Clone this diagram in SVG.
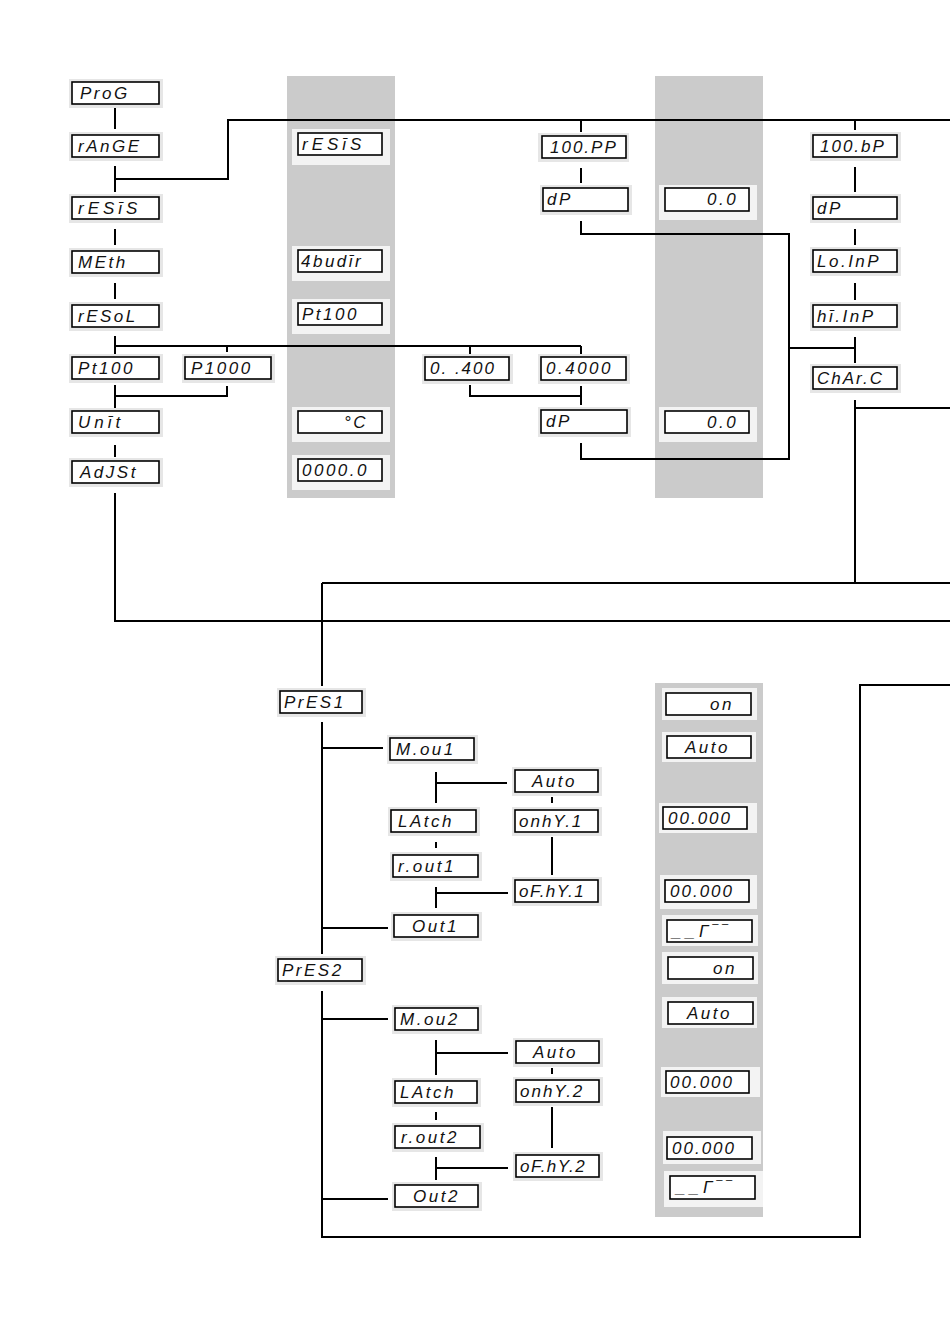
<svg xmlns="http://www.w3.org/2000/svg" width="950" height="1334" viewBox="0 0 950 1334">
<style>
.bg{fill:#cbcbcb}
.hw{fill:#e6e6e6}
.hg{fill:#f3f3f3}
.box{fill:#fff;stroke:#000;stroke-width:1.6}
text{font-family:"Liberation Sans",Arial,sans-serif;font-style:italic;font-size:17px;letter-spacing:2.5px;fill:#111}
.c path{fill:none;stroke:#000;stroke-width:2}
</style>
<rect width="950" height="1334" fill="#fff"/>
<g id="columns">
<rect class="bg" x="287" y="76" width="108" height="422"/>
<rect class="bg" x="655" y="76" width="108" height="422"/>
<rect class="bg" x="655" y="683" width="108" height="534"/>
</g>
<g class="c" id="connectors">
<path d="M115,108V129M115,166V192M115,179H228V120H950M115,229V245M115,283V299M115,336V354M115,346H581M227,346V352M470,346V354M581,346V354"/>
<path d="M115,385V408M115,396H227V386M115,445V457M115,493V621H950"/>
<path d="M581,120V132M581,168V183M581,221V234H789V459H581V443M789,348H855M470,385V396H581M581,386V405"/>
<path d="M855,120V130M855,167V192M855,229V245M855,283V300M855,337V363M855,400V583M855,408H950M322,583H950M322,583V686"/>
<path d="M322,722V954M322,748H383M322,928H388M436,772V803M436,783H507M552,797V803M436,842V848M552,837V875M436,887V908M436,893H508"/>
<path d="M322,991V1237H860V685H950M322,1019H388M436,1040V1075M436,1053H508M552,1068V1074M436,1112V1120M552,1107V1148M436,1157V1180M436,1168H508M322,1199H388"/>
</g>
<g id="n-prog"><rect class="hw" x="69" y="79" width="94" height="29"/><rect class="box" x="72" y="82" width="87" height="22"/><text x="80" y="99">ProG</text></g>
<g id="n-range"><rect class="hw" x="69" y="132" width="94" height="29"/><rect class="box" x="72" y="135" width="87" height="22"/><text x="78" y="152">rAnGE</text></g>
<g id="n-resis"><rect class="hw" x="69" y="194" width="94" height="29"/><rect class="box" x="72" y="197" width="87" height="22"/><text x="78" y="214" style="letter-spacing:4px">rESīS</text></g>
<g id="n-meth"><rect class="hw" x="69" y="248" width="94" height="29"/><rect class="box" x="72" y="251" width="87" height="22"/><text x="78" y="268">MEth</text></g>
<g id="n-resol"><rect class="hw" x="69" y="302" width="94" height="29"/><rect class="box" x="72" y="305" width="87" height="22"/><text x="78" y="322">rESoL</text></g>
<g id="n-pt100"><rect class="hw" x="69" y="354" width="94" height="29"/><rect class="box" x="72" y="357" width="87" height="22"/><text x="78" y="374">Pt100</text></g>
<g id="n-p1000"><rect class="hw" x="182" y="354" width="93" height="29"/><rect class="box" x="185" y="357" width="86" height="22"/><text x="191" y="374">P1000</text></g>
<g id="n-unit"><rect class="hw" x="69" y="408" width="94" height="29"/><rect class="box" x="72" y="411" width="87" height="22"/><text x="78" y="428" style="letter-spacing:4px">Unīt</text></g>
<g id="n-adjst"><rect class="hw" x="69" y="458" width="94" height="29"/><rect class="box" x="72" y="461" width="87" height="22"/><text x="80" y="478">AdJSt</text></g>
<g id="a-resis"><rect class="hg" x="292" y="129" width="98" height="36"/><rect class="box" x="298" y="133" width="84" height="22"/><text x="302" y="150" style="letter-spacing:4px">rESīS</text></g>
<g id="a-4wire"><rect class="hg" x="292" y="246" width="98" height="35"/><rect class="box" x="298" y="250" width="84" height="22"/><text x="301" y="267">4budīr</text></g>
<g id="a-pt100"><rect class="hg" x="292" y="299" width="98" height="35"/><rect class="box" x="298" y="303" width="84" height="22"/><text x="302" y="320">Pt100</text></g>
<g id="a-unit"><rect class="hg" x="292" y="407" width="98" height="35"/><rect class="box" x="298" y="411" width="84" height="22"/><text x="344" y="428">°C</text></g>
<g id="a-adj"><rect class="hg" x="292" y="455" width="98" height="35"/><rect class="box" x="298" y="459" width="84" height="22"/><text x="302" y="476">0000.0</text></g>
<g id="n-100pp"><rect class="hw" x="538" y="133" width="91" height="29"/><rect class="box" x="542" y="136" width="84" height="22"/><text x="550" y="153" style="letter-spacing:2px">100.PP</text></g>
<g id="n-dp1"><rect class="hw" x="540" y="185" width="92" height="30"/><rect class="box" x="543" y="188" width="85" height="23"/><text x="547" y="205">dP</text></g>
<g id="n-0400"><rect class="hw" x="422" y="354" width="91" height="30"/><rect class="box" x="425" y="357" width="84" height="23"/><text x="430" y="374" style="letter-spacing:2px">0. .400</text></g>
<g id="n-04000"><rect class="hw" x="538" y="354" width="92" height="30"/><rect class="box" x="541" y="357" width="85" height="23"/><text x="546" y="374">0.4000</text></g>
<g id="n-dp2"><rect class="hw" x="538" y="407" width="93" height="30"/><rect class="box" x="541" y="410" width="86" height="23"/><text x="546" y="427">dP</text></g>
<g id="b-dp1"><rect class="hg" x="659" y="185" width="98" height="35"/><rect class="box" x="665" y="188" width="84" height="23"/><text x="707" y="205">0.0</text></g>
<g id="b-dp2"><rect class="hg" x="659" y="407" width="98" height="35"/><rect class="box" x="665" y="411" width="84" height="22"/><text x="707" y="428">0.0</text></g>
<g id="n-100bp"><rect class="hw" x="810" y="132" width="91" height="29"/><rect class="box" x="813" y="135" width="84" height="22"/><text x="820" y="152" style="letter-spacing:2px">100.bP</text></g>
<g id="n-dp3"><rect class="hw" x="810" y="194" width="91" height="29"/><rect class="box" x="813" y="197" width="84" height="22"/><text x="817" y="214">dP</text></g>
<g id="n-loinp"><rect class="hw" x="810" y="247" width="91" height="29"/><rect class="box" x="813" y="250" width="84" height="22"/><text x="817" y="267">Lo.InP</text></g>
<g id="n-hiinp"><rect class="hw" x="810" y="302" width="91" height="29"/><rect class="box" x="813" y="305" width="84" height="22"/><text x="817" y="322">hī.InP</text></g>
<g id="n-charc"><rect class="hw" x="810" y="364" width="91" height="29"/><rect class="box" x="813" y="367" width="84" height="22"/><text x="817" y="384" style="letter-spacing:2px">ChAr.C</text></g>
<g id="n-pres1"><rect class="hw" x="277" y="688" width="89" height="29"/><rect class="box" x="280" y="691" width="82" height="22"/><text x="284" y="708">PrES1</text></g>
<g id="n-mou1"><rect class="hw" x="387" y="735" width="91" height="29"/><rect class="box" x="390" y="738" width="84" height="22"/><text x="396" y="755">M.ou1</text></g>
<g id="n-auto1"><rect class="hw" x="512" y="767" width="90" height="29"/><rect class="box" x="515" y="770" width="83" height="22"/><text x="532" y="787">Auto</text></g>
<g id="n-onhy1"><rect class="hw" x="512" y="807" width="90" height="29"/><rect class="box" x="515" y="810" width="83" height="22"/><text x="519" y="827" style="letter-spacing:2px">onhY.1</text></g>
<g id="n-latch1"><rect class="hw" x="388" y="807" width="92" height="29"/><rect class="box" x="391" y="810" width="85" height="22"/><text x="398" y="827">LAtch</text></g>
<g id="n-rout1"><rect class="hw" x="390" y="852" width="92" height="29"/><rect class="box" x="393" y="855" width="85" height="22"/><text x="398" y="872">r.out1</text></g>
<g id="n-ofhy1"><rect class="hw" x="512" y="877" width="90" height="29"/><rect class="box" x="515" y="880" width="83" height="22"/><text x="519" y="897" style="letter-spacing:1.5px">oF.hY.1</text></g>
<g id="n-out1"><rect class="hw" x="391" y="912" width="91" height="29"/><rect class="box" x="394" y="915" width="84" height="22"/><text x="412" y="932">Out1</text></g>
<g id="n-pres2"><rect class="hw" x="275" y="956" width="91" height="29"/><rect class="box" x="278" y="959" width="84" height="22"/><text x="282" y="976">PrES2</text></g>
<g id="n-mou2"><rect class="hw" x="392" y="1005" width="90" height="29"/><rect class="box" x="395" y="1008" width="83" height="22"/><text x="400" y="1025">M.ou2</text></g>
<g id="n-auto2"><rect class="hw" x="513" y="1038" width="90" height="29"/><rect class="box" x="516" y="1041" width="83" height="22"/><text x="533" y="1058">Auto</text></g>
<g id="n-onhy2"><rect class="hw" x="513" y="1077" width="90" height="29"/><rect class="box" x="516" y="1080" width="83" height="22"/><text x="520" y="1097" style="letter-spacing:2px">onhY.2</text></g>
<g id="n-latch2"><rect class="hw" x="392" y="1078" width="89" height="29"/><rect class="box" x="395" y="1081" width="82" height="22"/><text x="400" y="1098">LAtch</text></g>
<g id="n-rout2"><rect class="hw" x="392" y="1123" width="92" height="29"/><rect class="box" x="395" y="1126" width="85" height="22"/><text x="401" y="1143">r.out2</text></g>
<g id="n-ofhy2"><rect class="hw" x="513" y="1152" width="90" height="29"/><rect class="box" x="516" y="1155" width="83" height="22"/><text x="520" y="1172" style="letter-spacing:1.5px">oF.hY.2</text></g>
<g id="n-out2"><rect class="hw" x="392" y="1182" width="90" height="29"/><rect class="box" x="395" y="1185" width="83" height="22"/><text x="413" y="1202">Out2</text></g>
<g id="c-on1"><rect class="hg" x="662" y="688" width="95" height="32"/><rect class="box" x="666" y="693" width="85" height="22"/><text x="710" y="710">on</text></g>
<g id="c-auto1"><rect class="hg" x="662" y="732" width="94" height="30"/><rect class="box" x="667" y="736" width="84" height="22"/><text x="685" y="753">Auto</text></g>
<g id="c-on1val"><rect class="hg" x="659" y="803" width="98" height="30"/><rect class="box" x="663" y="807" width="84" height="22"/><text x="668" y="824" style="letter-spacing:2px">00.000</text></g>
<g id="c-of1val"><rect class="hg" x="660" y="875" width="97" height="34"/><rect class="box" x="665" y="880" width="84" height="22"/><text x="670" y="897" style="letter-spacing:2px">00.000</text></g>
<g id="c-out1"><rect class="hg" x="662" y="915" width="96" height="31"/><rect class="box" x="667" y="920" width="85" height="22"/><text x="672" y="937" style="letter-spacing:4px">__Γ‾‾</text></g>
<g id="c-on2"><rect class="hg" x="662" y="952" width="96" height="32"/><rect class="box" x="668" y="957" width="85" height="22"/><text x="713" y="974">on</text></g>
<g id="c-auto2"><rect class="hg" x="662" y="997" width="95" height="31"/><rect class="box" x="668" y="1002" width="85" height="22"/><text x="687" y="1019">Auto</text></g>
<g id="c-on2val"><rect class="hg" x="661" y="1067" width="99" height="30"/><rect class="box" x="666" y="1071" width="83" height="22"/><text x="670" y="1088" style="letter-spacing:2px">00.000</text></g>
<g id="c-of2val"><rect class="hg" x="663" y="1131" width="98" height="33"/><rect class="box" x="667" y="1137" width="85" height="22"/><text x="672" y="1154" style="letter-spacing:2px">00.000</text></g>
<g id="c-out2"><rect class="hg" x="664" y="1171" width="99" height="36"/><rect class="box" x="670" y="1176" width="85" height="23"/><text x="676" y="1193" style="letter-spacing:4px">__Γ‾‾</text></g>
</svg>
